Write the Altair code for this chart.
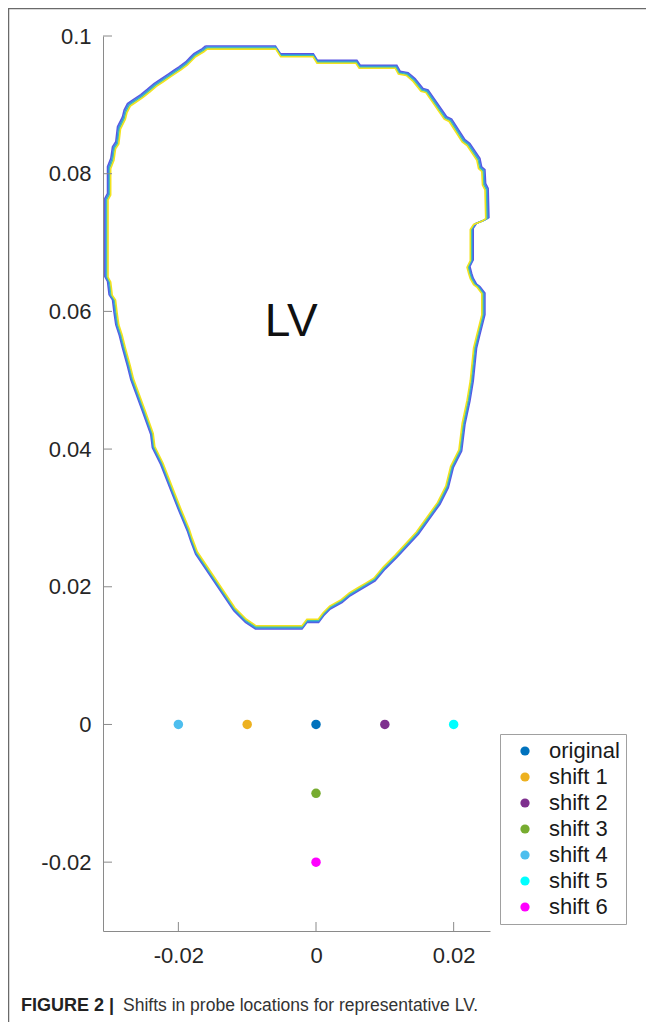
import altair as alt
import pandas as pd

# ---- data ----
# LV boundary (closed contour)
lv_x = [-0.01604, -0.00590, -0.00517, -0.00039, 0.00019, 0.00594, 0.00642, 0.01174,
        0.01222, 0.01338, 0.01439, 0.01555, 0.01628, 0.01899, 0.01971, 0.02164,
        0.02236, 0.02381, 0.02406, 0.02454, 0.02464, 0.02501, 0.02512, 0.02454,
        0.02333, 0.02284, 0.02284, 0.02236, 0.02261, 0.02284, 0.02333, 0.02381,
        0.02454, 0.02454, 0.02381, 0.02333, 0.02284, 0.02236, 0.02164, 0.02116,
        0.01994, 0.01922, 0.01801, 0.01487, 0.01174, 0.01004, 0.00859, 0.00739,
        0.00617, 0.00497, 0.00377, 0.00207, 0.00110, 0.00038, -0.00130, -0.00203,
        -0.00880, -0.01025, -0.01194, -0.01749, -0.01822, -0.01870, -0.01991, -0.02087,
        -0.02257, -0.02377, -0.02401, -0.02522, -0.02619, -0.02691, -0.02739, -0.02812,
        -0.02861, -0.02909, -0.02933, -0.02957, -0.03006, -0.03029, -0.03068, -0.03068,
        -0.03029, -0.03029, -0.02981, -0.02957, -0.02909, -0.02884, -0.02812, -0.02788,
        -0.02739, -0.02667, -0.02546, -0.02449, -0.02354, -0.02257, -0.02136, -0.02064,
        -0.01991, -0.01894, -0.01822, -0.01774, -0.01652, -0.01604]
lv_y = [0.09855, 0.09855, 0.09743, 0.09743, 0.09648, 0.09648, 0.09575, 0.09575,
        0.09488, 0.09468, 0.09381, 0.09236, 0.09217, 0.08826, 0.08793, 0.08493,
        0.08439, 0.08222, 0.08101, 0.08058, 0.07859, 0.07787, 0.07362, 0.07329,
        0.07280, 0.07207, 0.06749, 0.06652, 0.06555, 0.06483, 0.06396, 0.06362,
        0.06265, 0.05952, 0.05662, 0.05468, 0.04986, 0.04696, 0.04358, 0.03971,
        0.03729, 0.03439, 0.03199, 0.02764, 0.02425, 0.02257, 0.02087, 0.02014,
        0.01942, 0.01870, 0.01772, 0.01677, 0.01580, 0.01483, 0.01483, 0.01387,
        0.01387, 0.01483, 0.01652, 0.02474, 0.02667, 0.02812, 0.03101, 0.03343,
        0.03778, 0.04019, 0.04213, 0.04551, 0.04816, 0.05010, 0.05203, 0.05468,
        0.05662, 0.05807, 0.05975, 0.06170, 0.06242, 0.06435, 0.06507, 0.07642,
        0.07714, 0.08101, 0.08222, 0.08391, 0.08464, 0.08681, 0.08826, 0.08923,
        0.09019, 0.09068, 0.09149, 0.09228, 0.09309, 0.09372, 0.09454, 0.09503,
        0.09551, 0.09623, 0.09696, 0.09743, 0.09816, 0.09855]

# probe locations
probe_names = ["original", "shift 1", "shift 2", "shift 3", "shift 4", "shift 5", "shift 6"]
probe_x = [0.0, -0.01, 0.01, 0.0, -0.02, 0.02, 0.0]
probe_y = [0.0, 0.0, 0.0, -0.01, 0.0, 0.0, -0.02]
probe_colors = ["#0072BD", "#EDB120", "#7E2F8E", "#77AC30", "#4DBEEE", "#00FFFF", "#FF00FF"]

x_ticks = [-0.02, 0.0, 0.02]
y_ticks = [-0.02, 0.0, 0.02, 0.04, 0.06, 0.08, 0.1]

lv_label = ["LV"]
lv_label_x = [-0.0036]
lv_label_y = [0.0564]

caption_bold = "FIGURE 2 |"
caption_text = "Shifts in probe locations for representative LV."

# ---- chart ----
FONT = "Liberation Sans"
W, H = 387, 895
X_DOM = [-0.03095, 0.02528]
Y_DOM = [-0.03, 0.1]
AXIS_COL = "#8a8a8a"
LABEL_COL = "#262626"

label_expr = "datum.value == 0 ? '0' : (datum.value < 0 ? '-' : '') + format(abs(datum.value), '~g')"

xscale = alt.Scale(domain=X_DOM, nice=False, zero=False)
yscale = alt.Scale(domain=Y_DOM, nice=False, zero=False)

x_axis = alt.Axis(values=x_ticks, labelExpr=label_expr, title=None, grid=False,
                  ticks=False, tickSize=0, labelPadding=14, labelFontSize=22,
                  labelFont=FONT, labelColor=LABEL_COL, domainColor=AXIS_COL,
                  domainWidth=1)
y_axis = alt.Axis(values=y_ticks, labelExpr=label_expr, title=None, grid=False,
                  ticks=False, tickSize=0, labelPadding=12, labelFontSize=22,
                  labelFont=FONT, labelColor=LABEL_COL, domainColor=AXIS_COL,
                  domainWidth=1)

lv_df = pd.DataFrame({"x": lv_x, "y": lv_y, "i": list(range(len(lv_x)))})
cx0 = (max(lv_x) + min(lv_x)) / 2
cy0 = (max(lv_y) + min(lv_y)) / 2

band_colors = ["#5a55e2", "#3a86e6", "#3fc0b0", "#f2e21e"]
contour_layers = []
for k, col in enumerate(band_colors):
    fx = 1 - k * 0.0055
    fy = 1 - k * 0.0036
    layer = alt.Chart(lv_df).transform_calculate(
        xs=f"{cx0} + (datum.x - {cx0}) * {fx}",
        ys=f"{cy0} + (datum.y - {cy0}) * {fy}",
    ).mark_line(color=col, strokeWidth=1.6, strokeJoin="miter").encode(
        x=alt.X("xs:Q", scale=xscale, axis=x_axis),
        y=alt.Y("ys:Q", scale=yscale, axis=y_axis),
        order="i:Q",
    )
    contour_layers.append(layer)

probe_df = pd.DataFrame({"name": probe_names, "x": probe_x, "y": probe_y})
points = alt.Chart(probe_df).mark_circle(size=90, opacity=1).encode(
    x=alt.X("x:Q", scale=xscale, axis=x_axis),
    y=alt.Y("y:Q", scale=yscale, axis=y_axis),
    color=alt.Color(
        "name:N",
        scale=alt.Scale(domain=probe_names, range=probe_colors),
        legend=alt.Legend(
            orient="none", legendX=397, legendY=698, title=None,
            labelFontSize=22, labelFont=FONT, labelColor="#1a1a1a",
            symbolType="circle", symbolSize=85, symbolStrokeWidth=0,
            symbolOpacity=1, padding=6, rowPadding=4, symbolOffset=8,
            labelOffset=13, strokeColor="#a0a0a0", fillColor="white",
            labelLimit=300,
        ),
    ),
)

lv_text_df = pd.DataFrame({"t": lv_label, "x": lv_label_x, "y": lv_label_y})
lv_text = alt.Chart(lv_text_df).mark_text(
    fontSize=46, font=FONT, color="#111111", align="center", baseline="alphabetic"
).encode(
    x=alt.X("x:Q", scale=xscale, axis=x_axis),
    y=alt.Y("y:Q", scale=yscale, axis=y_axis),
    text="t:N",
)

ytick_df = pd.DataFrame({"v": y_ticks})
ytick_rules = alt.Chart(ytick_df).mark_rule(color=AXIS_COL, strokeWidth=1).encode(
    y=alt.Y("v:Q", scale=yscale, axis=y_axis),
    x=alt.value(0), x2=alt.value(9),
)
xtick_df = pd.DataFrame({"v": x_ticks})
xtick_rules = alt.Chart(xtick_df).mark_rule(color=AXIS_COL, strokeWidth=1).encode(
    x=alt.X("v:Q", scale=xscale, axis=x_axis),
    y=alt.value(H), y2=alt.value(H - 9),
)

one = pd.DataFrame({"a": [0]})
frame_left = alt.Chart(one).mark_rule(color="#6a6a6a", strokeWidth=1.5).encode(
    x=alt.value(-94.5), y=alt.value(-27.5), y2=alt.value(990)
)
frame_top = alt.Chart(one).mark_rule(color="#6a6a6a", strokeWidth=1.5).encode(
    x=alt.value(-95), x2=alt.value(543), y=alt.value(-27.5)
)

cap_df1 = pd.DataFrame({"t": [caption_bold]})
cap_df2 = pd.DataFrame({"t": [caption_text]})
cap1 = alt.Chart(cap_df1).mark_text(
    font=FONT, fontSize=18, fontWeight="bold", color="#222222",
    align="left", baseline="middle"
).encode(x=alt.value(-82), y=alt.value(970), text="t:N")
cap2 = alt.Chart(cap_df2).mark_text(
    font=FONT, fontSize=17.5, color="#333333", align="left", baseline="middle"
).encode(x=alt.value(20), y=alt.value(970), text="t:N")

chart = alt.layer(
    *contour_layers, ytick_rules, xtick_rules, points, lv_text,
    frame_left, frame_top, cap1, cap2,
).properties(
    width=W, height=H,
    autosize=alt.AutoSizeParams(type="none"),
    padding={"left": 95, "top": 28, "right": 156, "bottom": 91},
).configure_view(stroke=None)

chart.save("out.html", embed_options={"renderer": "svg", "actions": False})
